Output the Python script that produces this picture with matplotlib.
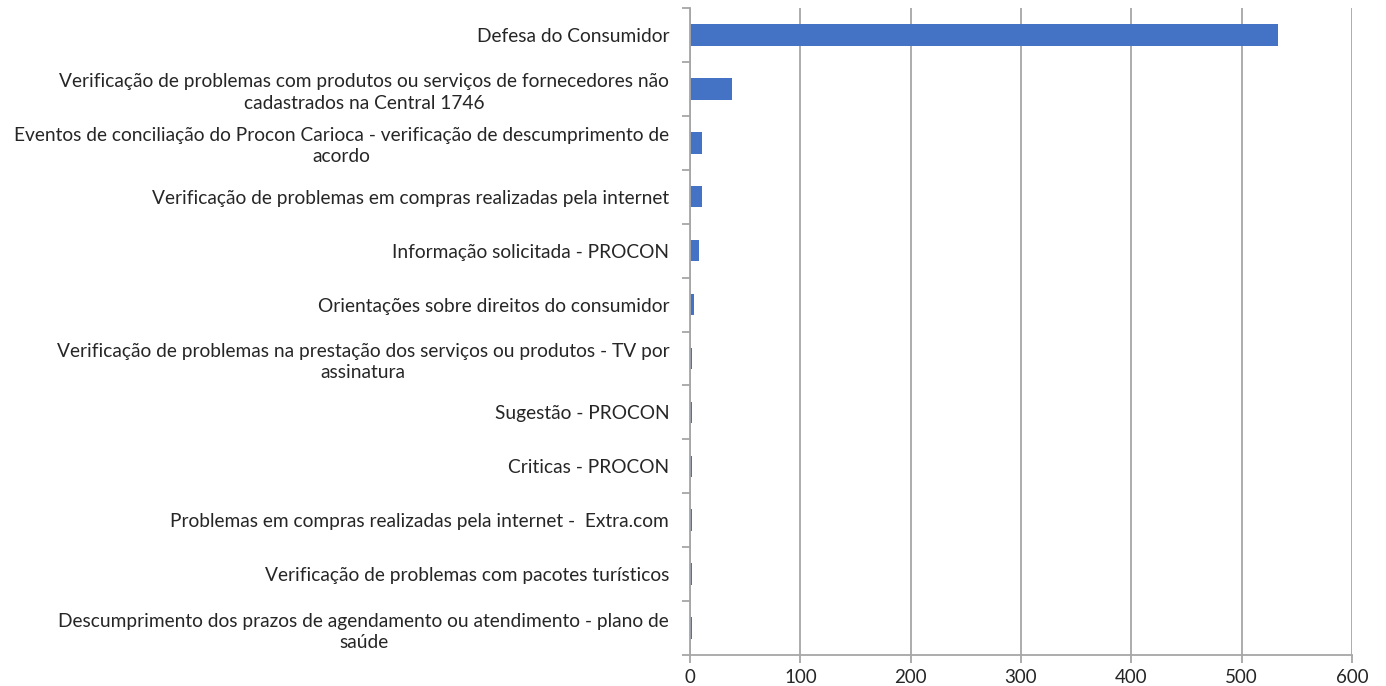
import matplotlib
matplotlib.use("Agg")
import matplotlib.pyplot as plt
import numpy as np

categories = [
    "Defesa do Consumidor",
    "Verificação de problemas com produtos ou serviços de fornecedores não\ncadastrados na Central 1746",
    "Eventos de conciliação do Procon Carioca - verificação de descumprimento de\nacordo",
    "Verificação de problemas em compras realizadas pela internet",
    "Informação solicitada - PROCON",
    "Orientações sobre direitos do consumidor",
    "Verificação de problemas na prestação dos serviços ou produtos - TV por\nassinatura",
    "Sugestão - PROCON",
    "Criticas - PROCON",
    "Problemas em compras realizadas pela internet -  Extra.com",
    "Verificação de problemas com pacotes turísticos",
    "Descumprimento dos prazos de agendamento ou atendimento - plano de\nsaúde",
]
values = [533, 38, 11, 11, 8, 4, 2, 2, 2, 2, 2, 2]
xticks = [0, 100, 200, 300, 400, 500, 600]

plt.rcParams['font.family'] = ['Lato', 'DejaVu Sans']

fig = plt.figure(figsize=(13.86, 6.86), dpi=100)
ax = fig.add_axes([690/1386, 1-655/686, (1352-690)/1386, (655-8)/686])

n = len(categories)
y = np.arange(n)
ax.barh(y, values, height=0.4, color="#4472C4", zorder=3)
ax.set_ylim(n - 0.5, -0.5)
ax.set_xlim(0, 600)
ax.set_xticks(xticks)
ax.set_xticklabels([str(t) for t in xticks], fontsize=13.5, color="#262626")
ax.set_yticks(y)
ax.set_yticklabels(categories, fontsize=13.8, color="#262626",
                   multialignment="center", linespacing=1.3)
ax.set_yticks(np.arange(-0.5, n, 1), minor=True)
ax.tick_params(axis="y", which="major", length=0, pad=15)
ax.tick_params(axis="y", which="minor", length=6, color="#a6a6a6", width=1.3)
ax.tick_params(axis="x", which="major", length=6, color="#a6a6a6", width=1.3, pad=4)
ax.grid(axis="x", color="#a6a6a6", linewidth=1.3, zorder=0)
for s in ["top", "right"]:
    ax.spines[s].set_visible(False)
for s in ["left", "bottom"]:
    ax.spines[s].set_color("#a6a6a6")
    ax.spines[s].set_linewidth(1.3)
ax.spines["left"].set_zorder(4)

fig.savefig("out.png", dpi=100)
